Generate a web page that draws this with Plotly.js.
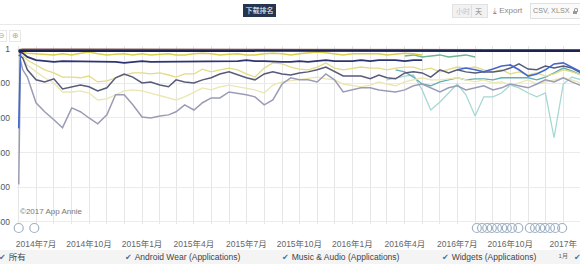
<!DOCTYPE html>
<html><head><meta charset="utf-8">
<script src="https://cdn.plot.ly/plotly-3.0.1.min.js"></script>
<style>
html,body{margin:0;padding:0;width:580px;height:264px;overflow:hidden;background:#fff;font-family:"Liberation Sans",Arial,sans-serif;}
#chart{position:absolute;left:-30px;top:0;width:610px;height:264px;}
.ov{position:absolute;white-space:nowrap;}
.chk{color:#3d6fa3;font-family:"DejaVu Sans";font-size:8px;margin-right:3px;}
.lg{position:absolute;top:250px;height:14px;line-height:14px;font-size:8.5px;color:#444;font-family:"Liberation Sans","Noto Sans CJK SC",sans-serif;white-space:nowrap;}
</style></head><body>
<div class="ov" style="left:0;top:250px;width:580px;height:14px;background:#f4f4f4"></div>
<div id="chart"></div>
<div class="ov" style="left:0;top:24px;width:580px;height:1px;background:#e8e8e8"></div>
<div class="ov" style="left:243px;top:4px;width:33px;height:13px;background:#27344f;color:#fff;font-size:7px;font-family:'Noto Sans CJK SC';line-height:13px;text-align:center">下载排名</div>
<div class="ov" style="left:452px;top:4px;width:34px;height:12px;border:1px solid #e2e2e2;background:#f2f2f2;font-size:7px;font-family:'Noto Sans CJK SC';line-height:12px;color:#c4c4c4">
  <span style="position:absolute;left:3px">小时</span>
  <span style="position:absolute;left:18px;top:0;width:1px;height:12px;background:#dedede"></span>
  <span style="position:absolute;left:22px;color:#8a8a8a">天</span>
</div>
<div class="ov" style="left:493px;top:4px;font-size:8px;line-height:13px;color:#8a8a8a"><span style="font-family:'DejaVu Sans';font-size:7.5px">⤓</span> Export</div>
<div class="ov" style="left:530px;top:3px;width:47px;height:14px;border:1px solid #e0e0e0;background:#fafafa;font-size:7.2px;line-height:14px;color:#8a8a8a;padding-left:2px">CSV, XLSX
  <span style="position:absolute;left:42px;top:6.5px;width:4px;height:3.5px;background:#999"></span>
  <span style="position:absolute;left:42.5px;top:4px;width:2px;height:2.5px;border:1px solid #999;border-bottom:none;border-radius:2px 2px 0 0"></span>
</div>
<div class="ov" style="left:-5px;top:30px;width:10px;height:10px;border:1px solid #e8e8e8;font-size:8px;line-height:10px;color:#aaa;text-align:center;font-family:'DejaVu Sans'">⊖</div>
<div class="ov" style="left:9px;top:30px;width:10px;height:10px;border:1px solid #e8e8e8;font-size:8px;line-height:10px;color:#aaa;text-align:center;font-family:'DejaVu Sans'">⊕</div>
<div class="lg" style="left:-1px"><span class="chk">✔</span>所有</div>
<div class="lg" style="left:125px"><span class="chk">✔</span>Android Wear (Applications)</div>
<div class="lg" style="left:282px"><span class="chk">✔</span>Music &amp; Audio (Applications)</div>
<div class="lg" style="left:442px"><span class="chk">✔</span>Widgets (Applications)</div>
<div class="lg" style="left:574px"><span class="chk">✔</span></div>
<script>
// ---- data ----
const dates = ["2014-06-01","2014-06-04","2014-06-08","2014-06-16",
"2014-07-01","2014-07-16","2014-08-01","2014-08-16","2014-09-01","2014-09-16","2014-10-01","2014-10-16","2014-11-01","2014-11-16","2014-12-01","2014-12-16",
"2015-01-01","2015-01-16","2015-02-01","2015-02-16","2015-03-01","2015-03-16","2015-04-01","2015-04-16","2015-05-01","2015-05-16","2015-06-01","2015-06-16",
"2015-07-01","2015-07-16","2015-08-01","2015-08-16","2015-09-01","2015-09-16","2015-10-01","2015-10-16","2015-11-01","2015-11-16","2015-12-01","2015-12-16",
"2016-01-01","2016-01-16","2016-02-01","2016-02-16","2016-03-01","2016-03-16","2016-04-01","2016-04-16","2016-05-01","2016-05-16","2016-06-01","2016-06-16",
"2016-07-01","2016-07-16","2016-08-01","2016-08-16","2016-09-01","2016-09-16","2016-10-01","2016-10-16","2016-11-01","2016-11-16","2016-12-01","2016-12-16",
"2017-01-01","2017-01-16","2017-02-01"];

const topBrown = [3,2,2,2,3,2,2,3,2,2, 2,3,2,2,2,3,2,2,2,3, 2,2,3,2,2,2,3,2,2,2, 3,2,2,2,3,2,2,2,3,2, 2,2,3,2,2,2,3,2,2,2, 3,2,2,2,3,2,2,2,3,2, 2,2,3,2,2,2,3];
const topNavy = [10,7,6,6,7,6,6,7,6,6, 7,7,6,6,7,6,6,7,7,6, 6,6,7,6,6,7,6,6,7,6, 6,6,7,7,6,6,7,6,6,6, 7,6,6,7,6,6,6,7,6,6, 7,6,6,7,6,6,7,6,6,6, 7,6,6,7,6,6,7];
const yellow = [5,8,10,13,15,18,18,15,18,13, 10,15,18,16,15,18,15,18,16,15, 18,18,15,13,15,18,16,15,18,18, 15,13,15,18,15,13,10,12,15,18, 15,15,13,15,18,15,13,15,18,
  null,null,null,null,null,null,null,null,null,null,null,null,null,null,null,null,null,null];
const green = [null,null,null,null,null,null,null,null,null,null, null,null,null,null,null,null,null,null,null,null, null,null,null,null,null,null,null,null,null,null,
  null,null,null,null,null,null,null,null,null,null, null,null,null,null,null,null,
  21,18,24,21,18,24,21,18,24, null,null,null,null,null,null,null,null,null,null,null,null];
const navy2 = [4,10,13,24,33,36,38,36,36,38, 38,36,36,38,41,38,36,38,38,36, 36,38,36,36,36,38,38,36,33,36, 36,38,38,38,36,38,36,33,36,36, 36,33,36,33,33,33,36,33,33,
  null,null,null,null,null,null,null,null,null,null,null,null,null,null,null,null,null,null];
const lightYellow = [10,15,21,33,47,61,70,82,82,84, 79,96,93,84,76,70,70,73,70,76, 82,73,73,59,67,61,56,61,73,82, 56,41,44,53,59,61,53,41,56,61, 56,53,56,56,61,56,53,53,61,56, 67,61,53,56,53,61,67,61,73,67, 76,70,79,73,61,67,76];
const darkGrey = [18,21,27,61,90,96,87,116,110,105, 110,122,113,84,73,82,99,96,105,110, 90,96,99,90,84,73,67,76,84,90, 73,67,73,76,70,67,61,53,67,79, 79,79,87,76,84,87,70,67,70,82, 61,70,61,67,70,67,67,64,56,44, 59,61,50,56,50,56,70];
const paleYellow = [13,18,27,47,67,84,99,125,125,122, 128,148,145,133,122,119,122,128,136,142, 148,139,125,113,119,110,105,110,113,119, 128,105,96,93,90,87,82,87,90,102, 107,110,105,96,102,107,96,90,84,90, 90,87,84,90,96,90,99,96,105,99, 90,102,96,90,84,90,99];
const greyBlue = [392,33,61,82,156,182,205,228,171,182, 200,217,191,133,133,162,197,200,194,191, 182,162,177,156,142,142,125,128,133,139, 162,148,102,84,90,90,96,73,90,125, 119,113,113,119,122,125,119,107,102,113, 125,113,107,119,113,107,119,113,102,107, 113,102,90,96,84,96,107];
const teal = [null,null,null,null,null,null,null,null,null,null, null,null,null,null,null,null,null,null,null,null, null,null,null,null,null,null,null,null,null,null,
  null,null,null,null,null,null,null,null,null,null, null,null,null,null,null,
  61,67,82,102,107,96,90,84,90,87,87,90,84,84,82,84,90,82,70,56,64,76];
const lightTeal = [null,null,null,null,null,null,null,null,null,null, null,null,null,null,null,null,null,null,null,null, null,null,null,null,null,null,null,null,null,null,
  null,null,null,null,null,null,null,null,null,null, null,null,null,null,
  90,84,79,76,119,177,154,128,102,133,194,139,139,128,105,113,128,139,128,257,102,82,90];
const blue = [230,5,4, null,null,null,null,null,null,null, null,null,null,null,null,null,null,null,null,null, null,null,null,null,null,null,null,null,null,null,
  null,null,null,null,null,null,null,null,null,null, null,null,null,null,null,null,null,null,null,null,null,null,
  61,56,61,67,59,50,47,61,79,73,61,44,41,53,67];

const flagDates = ["2014-06-01","2014-06-28","2016-08-04","2016-08-13","2016-08-22","2016-08-30","2016-09-08","2016-09-17","2016-09-25","2016-10-04","2016-10-15",
  "2016-11-04","2016-11-13","2016-11-22","2016-11-30","2016-12-09","2016-12-18","2016-12-30"];

const xTickVals = ["2014-07-01","2014-10-01","2015-01-01","2015-04-01","2015-07-01","2015-10-01","2016-01-01","2016-04-01","2016-07-01","2016-10-01","2017-01-01"];
const xTickText = ["2014年7月","2014年10月","2015年1月","2015年4月","2015年7月","2015年10月","2016年1月","2016年4月","2016年7月","2016年10月","2017年<br><span style=\"font-size:6px\">1月</span>"];
const yTickVals = [1,100,200,300,400,500];
const xRange = ['2014-05-29','2017-01-30'];

// ---- traces ----
function line(name, y, color, width){
  return {type:'scatter', mode:'lines', name:name, x:dates, y:y, connectgaps:false,
    line:{color:color, width:width, shape:'linear'}, hoverinfo:'skip'};
}
const traces = [
  line('lightTeal', lightTeal, '#a6d8d4', 1.3),
  line('teal', teal, '#62aeb5', 1.3),
  line('paleYellow', paleYellow, '#ece6b0', 1.3),
  line('lightYellow', lightYellow, '#e3dc84', 1.3),
  line('greyBlue', greyBlue, '#9a9cb6', 1.5),
  line('darkGrey', darkGrey, '#575b78', 1.5),
  line('blue', blue, '#4467cc', 1.6),
  line('green', green, '#6fb38f', 1.5),
  line('yellow', yellow, '#d9cf4f', 1.5),
  line('navy2', navy2, '#2e3470', 1.8),
  line('topBrown', topBrown, '#7a4b45', 1.5),
  line('topNavy', topNavy, '#1d2452', 2),
  {type:'scatter', mode:'markers', name:'events', x:flagDates, y:flagDates.map(()=>0.5), xaxis:'x2', yaxis:'y2', cliponaxis:false,
   marker:{symbol:'circle-open', size:9, color:'#9fb1c4', line:{width:1.2}}, hoverinfo:'skip'}
];

const layout = {
  width:610, height:264,
  margin:{l:47, r:0, t:46, b:32},
  paper_bgcolor:'rgba(0,0,0,0)', plot_bgcolor:'rgba(0,0,0,0)',
  showlegend:false,
  font:{family:'"Liberation Sans", "Noto Sans CJK SC", sans-serif', size:8.5, color:'#666'},
  xaxis:{type:'date', range:xRange, tickmode:'array', tickvals:xTickVals, ticktext:xTickText, anchor:'y',
    showgrid:true, gridcolor:'#e6e6e6', gridwidth:1, zeroline:false, showline:false, ticks:'',
    tickfont:{size:8.5, color:'#666'}, ticklabelstandoff:13,
    minor:{dtick:'M1', tick0:'2014-06-01', showgrid:true, gridcolor:'#e6e6e6', ticks:''}},
  yaxis:{domain:[0.043,1], range:[505.8,-7.65], tickmode:'array', tickvals:yTickVals, showgrid:true, gridcolor:'#ebebeb',
    zeroline:false, showline:false, ticks:'', tickfont:{size:8.5, color:'#555'}, ticklabelstandoff:6},
  xaxis2:{type:'date', range:xRange, anchor:'y2', overlaying:'x', showgrid:false, showticklabels:false, zeroline:false, ticks:''},
  yaxis2:{domain:[0,0.043], range:[0,1], anchor:'x2', showgrid:false, showticklabels:false, zeroline:false, ticks:''},
  annotations:[{xref:'paper', yref:'paper', x:0.002, y:0.11, xanchor:'left', yanchor:'middle', showarrow:false,
    text:'©2017 App Annie', font:{size:8, color:'#777'}}]
};
Plotly.newPlot('chart', traces, layout, {displayModeBar:false, staticPlot:true});
</script>
</body></html>
